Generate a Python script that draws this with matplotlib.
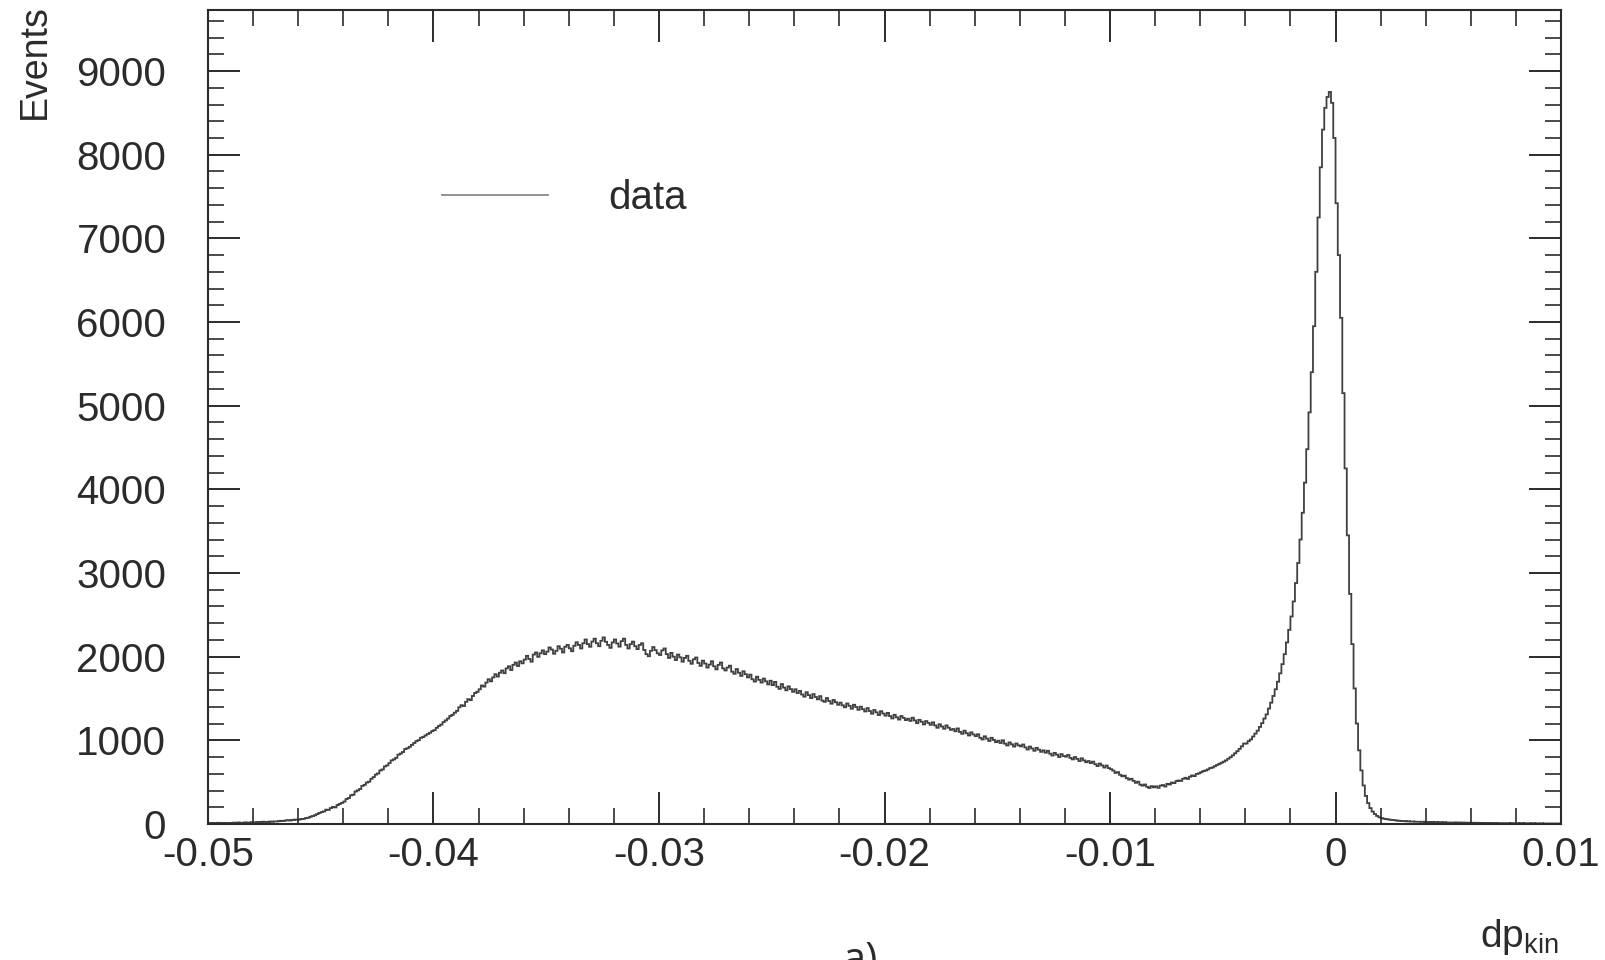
import numpy as np
import matplotlib.pyplot as plt
from matplotlib.ticker import MultipleLocator, FuncFormatter
from matplotlib.lines import Line2D

plt.rcParams['font.family'] = ['Liberation Sans', 'DejaVu Sans']
plt.rcParams['mathtext.fontset'] = 'custom'
plt.rcParams['mathtext.rm'] = 'Liberation Sans'
plt.rcParams['mathtext.it'] = 'Liberation Sans:italic'

# histogram range: 600 bins of 0.0001 from -0.05 to 0.01
x_min, x_max, n_bins = -0.05, 0.01, 600

# bin contents (10 bins per row = 0.001 in dp_kin)
tail_left = [
    8, 12, 9, 11, 14, 10, 13, 9, 12, 11,
    13, 16, 12, 18, 15, 14, 19, 16, 17, 21,
    20, 18, 24, 22, 27, 25, 23, 29, 26, 31,
    30, 34, 38, 36, 42, 45, 41, 48, 52, 50,
    52, 58, 61, 70, 74, 86, 95, 104, 118, 132,
]
rise = [
    142, 150, 171, 168, 190, 204, 198, 226, 240, 252,
    268, 298, 310, 342, 350, 388, 402, 418, 455, 468,
    495, 505, 540, 560, 590, 604, 640, 652, 688, 700,
    728, 760, 772, 790, 828, 842, 860, 895, 905, 922,
    945, 968, 990, 1002, 1030, 1040, 1058, 1075, 1090, 1110,
    1122, 1150, 1172, 1188, 1218, 1238, 1260, 1290, 1305, 1330,
    1352, 1395, 1420, 1410, 1460, 1492, 1480, 1530, 1565, 1580,
]
bump = [
    1610, 1655, 1642, 1690, 1730, 1705, 1752, 1790, 1762, 1808,
    1835, 1802, 1860, 1885, 1840, 1902, 1930, 1888, 1945, 1920,
    1965, 2010, 1972, 1940, 2025, 2050, 1998, 2040, 2075, 2030,
    2060, 2110, 2085, 2035, 2070, 2125, 2095, 2050, 2118, 2140,
    2100, 2065, 2130, 2172, 2140, 2098, 2160, 2205, 2150, 2118,
    2180, 2215, 2160, 2125, 2190, 2230, 2178, 2140, 2105, 2170,
    2205, 2158, 2120, 2185, 2215, 2140, 2098, 2150, 2180, 2125,
    2090, 2140, 2160, 2080, 2030, 2005, 2070, 2115, 2078, 2040,
    2020, 2075, 2098, 2030, 1985, 2045, 2000, 1960, 2025, 1992,
    1940, 1985, 2010, 1950, 1915, 1968, 1990, 1925, 1890, 1952,
    1918, 1870, 1905, 1945, 1885, 1848, 1902, 1930, 1860, 1835,
    1870, 1892, 1820, 1795, 1852, 1808, 1770, 1825, 1790, 1752,
]
decline = [
    1785, 1730, 1702, 1760, 1722, 1690, 1738, 1705, 1668, 1712,
    1660, 1698, 1640, 1615, 1672, 1630, 1598, 1645, 1612, 1580,
    1610, 1565, 1590, 1548, 1522, 1575, 1540, 1505, 1552, 1518,
    1490, 1528, 1475, 1460, 1505, 1470, 1438, 1482, 1455, 1425,
    1450, 1418, 1395, 1440, 1412, 1378, 1425, 1398, 1365, 1402,
    1372, 1345, 1385, 1350, 1318, 1362, 1335, 1302, 1348, 1320,
    1295, 1328, 1290, 1262, 1305, 1275, 1248, 1290, 1268, 1242,
    1258, 1232, 1270, 1238, 1205, 1245, 1222, 1190, 1230, 1208,
    1185, 1215, 1178, 1150, 1192, 1165, 1138, 1178, 1150, 1125,
    1135, 1108, 1142, 1100, 1078, 1115, 1085, 1058, 1095, 1070,
    1050, 1072, 1030, 1010, 1048, 1020, 992, 1030, 1005, 978,
    995, 968, 1000, 960, 938, 975, 952, 925, 962, 940,
    928, 950, 915, 890, 925, 902, 875, 910, 888, 862,
    880, 852, 875, 840, 818, 850, 828, 800, 835, 812,
    805, 825, 790, 772, 800, 778, 752, 785, 760, 738,
    752, 728, 745, 715, 692, 722, 700, 675, 698, 668,
]
valley = [
    655, 638, 610, 620, 588, 570, 578, 548, 530, 540,
    515, 492, 505, 470, 458, 472, 445, 430, 452, 438,
    450, 432, 458, 465, 448, 480, 472, 495, 488, 512,
    520, 515, 540, 552, 538, 565, 580, 572, 598, 605,
    618, 632, 640, 652, 668, 675, 690, 705, 718, 732,
    745, 760, 780, 798, 820, 845, 870, 898, 928, 960,
]
peak = [
    962, 990, 1010, 1045, 1080, 1115, 1160, 1205, 1260, 1310,
    1380, 1450, 1530, 1610, 1700, 1800, 1910, 2030, 2170, 2320,
    2480, 2660, 2880, 3120, 3400, 3720, 4080, 4480, 4920, 5400,
    5950, 6600, 7250, 7850, 8300, 8560, 8690, 8750, 8620, 8200,
    7420, 6800, 6050, 5150, 4250, 3450, 2750, 2150, 1620, 1200,
    880, 640, 460, 335, 250, 190, 148, 118, 96, 80,
]
tail_right = [
    70, 63, 58, 54, 50, 47, 44, 40, 38, 36,
    34, 31, 33, 29, 30, 27, 28, 26, 25, 27,
    24, 22, 25, 21, 23, 20, 22, 19, 21, 18,
    19, 17, 18, 16, 18, 15, 17, 14, 16, 15,
    14, 15, 12, 14, 13, 11, 13, 12, 10, 12,
    11, 12, 10, 11, 9, 11, 10, 8, 10, 9,
    9, 8, 10, 7, 9, 8, 7, 9, 6, 8,
    7, 8, 6, 7, 5, 7, 6, 5, 7, 6,
]

counts = np.array(tail_left + rise + bump + decline + valley + peak + tail_right)
edges = np.linspace(x_min, x_max, n_bins + 1)

ink = '#2b2b2b'

fig = plt.figure(figsize=(16.06, 9.6), dpi=100)
ax = fig.add_axes([0.1295, 0.1417, 0.8425, 0.8479])

ax.stairs(counts, edges, color='#404040', linewidth=1.3)

ax.set_xlim(x_min, x_max)
ax.set_ylim(0, 9730)

ax.xaxis.set_major_locator(MultipleLocator(0.01))
ax.xaxis.set_minor_locator(MultipleLocator(0.002))
ax.yaxis.set_major_locator(MultipleLocator(1000))
ax.yaxis.set_minor_locator(MultipleLocator(200))
ax.xaxis.set_major_formatter(FuncFormatter(lambda v, p: '0' if abs(v) < 1e-9 else f'{v:.2f}'))
ax.yaxis.set_major_formatter(FuncFormatter(lambda v, p: f'{v:.0f}'))

ax.tick_params(which='both', direction='in', top=True, right=True,
               color=ink, labelcolor=ink, labelsize=29)
ax.tick_params(which='major', length=23, width=1.4)
ax.tick_params(which='minor', length=11.5, width=1.2)
ax.tick_params(axis='x', which='major', pad=9)
ax.tick_params(axis='y', which='major', pad=30)

for s in ax.spines.values():
    s.set_linewidth(1.5)
    s.set_color(ink)

handle = Line2D([], [], color='#888888', linewidth=1.3)
ax.legend([handle], ['data'], loc='center left', bbox_to_anchor=(0.173, 0.769),
          frameon=False, fontsize=29, handlelength=2.63, handletextpad=1.5,
          borderpad=0, borderaxespad=0, labelcolor=ink)

fig.text(35 / 1606, 1 - 4 / 960, 'Events', rotation=90, ha='center', va='top',
         fontsize=27, color=ink)
fig.text(1559 / 1606, 1 - 947 / 960, r'dp$_{\mathrm{kin}}$', ha='right', va='baseline',
         fontsize=28, color=ink)
fig.text(860 / 1606, -0.0125, 'a)', ha='center', va='baseline', fontsize=30,
         color=ink, family=['Open Sans', 'DejaVu Sans'])

fig.savefig('out.png', dpi=100)
